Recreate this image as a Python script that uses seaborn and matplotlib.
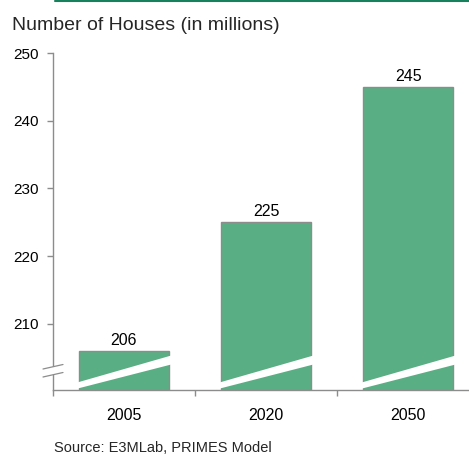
import matplotlib
matplotlib.use('Agg')
import matplotlib.pyplot as plt
import seaborn as sns
import pandas as pd
from matplotlib.patches import Polygon
from matplotlib.lines import Line2D

# ---- data ----
years = ['2005', '2020', '2050']
houses = [206, 225, 245]
yticks = [210, 220, 230, 240, 250]
title = 'Number of Houses (in millions)'
source = 'Source: E3MLab, PRIMES Model'

sns.set_theme(style='white')
plt.rcParams['font.family'] = ['Liberation Sans', 'DejaVu Sans']

W, H = 469, 455
BAR = '#5aae84'
GRAY = '#8c8c8c'
fig = plt.figure(figsize=(W / 100, H / 100), dpi=100)
ax = fig.add_axes([52.7 / W, 65 / H, 426.6 / W, 337 / H])

df = pd.DataFrame({'year': years, 'houses': houses})
sns.barplot(data=df, x='year', y='houses', color=BAR, saturation=1,
            width=0.634, edgecolor=GRAY, linewidth=1.0, ax=ax, zorder=2)

ymin = 200.2
ax.set_xlim(-0.5, 2.5)
ax.set_ylim(ymin, 250)
ax.set_xlabel('')
ax.set_ylabel('')

for s in ['top', 'right']:
    ax.spines[s].set_visible(False)
for s in ['left', 'bottom']:
    ax.spines[s].set_color(GRAY)
    ax.spines[s].set_linewidth(1.0)

ax.set_yticks(yticks)
ax.set_yticklabels([str(t) for t in yticks])
ax.tick_params(axis='y', length=4.3, width=1, color=GRAY, pad=5.8,
               labelsize=11, labelcolor='black', left=True)
ax.set_xticks(range(len(years)))
ax.set_xticklabels(years)
ax.set_xticks([i - 0.5 for i in range(len(years) + 1)], minor=True)
ax.tick_params(axis='x', which='major', length=0, pad=13, labelsize=11.5,
               labelcolor='black')
ax.tick_params(axis='x', which='minor', length=4.3, width=1, color=GRAY,
               bottom=True)

# value labels and break bands
for p, v in zip(ax.patches, houses):
    cx = p.get_x() + p.get_width() / 2
    ax.annotate(str(v), (cx, v), xytext=(0, 4.5), textcoords='offset points',
                ha='center', va='baseline', fontsize=11.5, color='black')
    x0 = p.get_x() - 0.02
    x1 = p.get_x() + p.get_width() + 0.05
    band = Polygon([(x0, ymin + 0.15), (x1, ymin + 3.95), (x1, ymin + 5.3),
                    (x0, ymin + 1.05)], closed=True, facecolor='white',
                   edgecolor='none', zorder=5)
    ax.add_patch(band)

# y-axis break mark (figure pixel coords, top-down converted)
def fp(x, y):
    return (x / W, (H - y) / H)

brk = Polygon([fp(43, 369), fp(63, 364.5), fp(63, 372.5), fp(43, 377)],
              closed=True, facecolor='white', edgecolor='none',
              transform=fig.transFigure, zorder=10)
fig.add_artist(brk)
for (a, b) in [((43, 369), (63, 364.5)), ((43, 377), (63, 372.5))]:
    p1, p2 = fp(*a), fp(*b)
    fig.add_artist(Line2D([p1[0], p2[0]], [p1[1], p2[1]], color=GRAY,
                          lw=0.9, transform=fig.transFigure, zorder=11))

# title, source, top rule
fig.text(12 / W, 1 - 30 / H, title, fontsize=14, va='baseline', ha='left')
fig.text(54 / W, 3 / H, source, fontsize=10.5, va='baseline', ha='left')
fig.add_artist(Line2D([55 / W, 1], [1 - 0.8 / H, 1 - 0.8 / H],
                      color='#17805c', lw=1.5, transform=fig.transFigure))

fig.savefig('out.png', dpi=100)
